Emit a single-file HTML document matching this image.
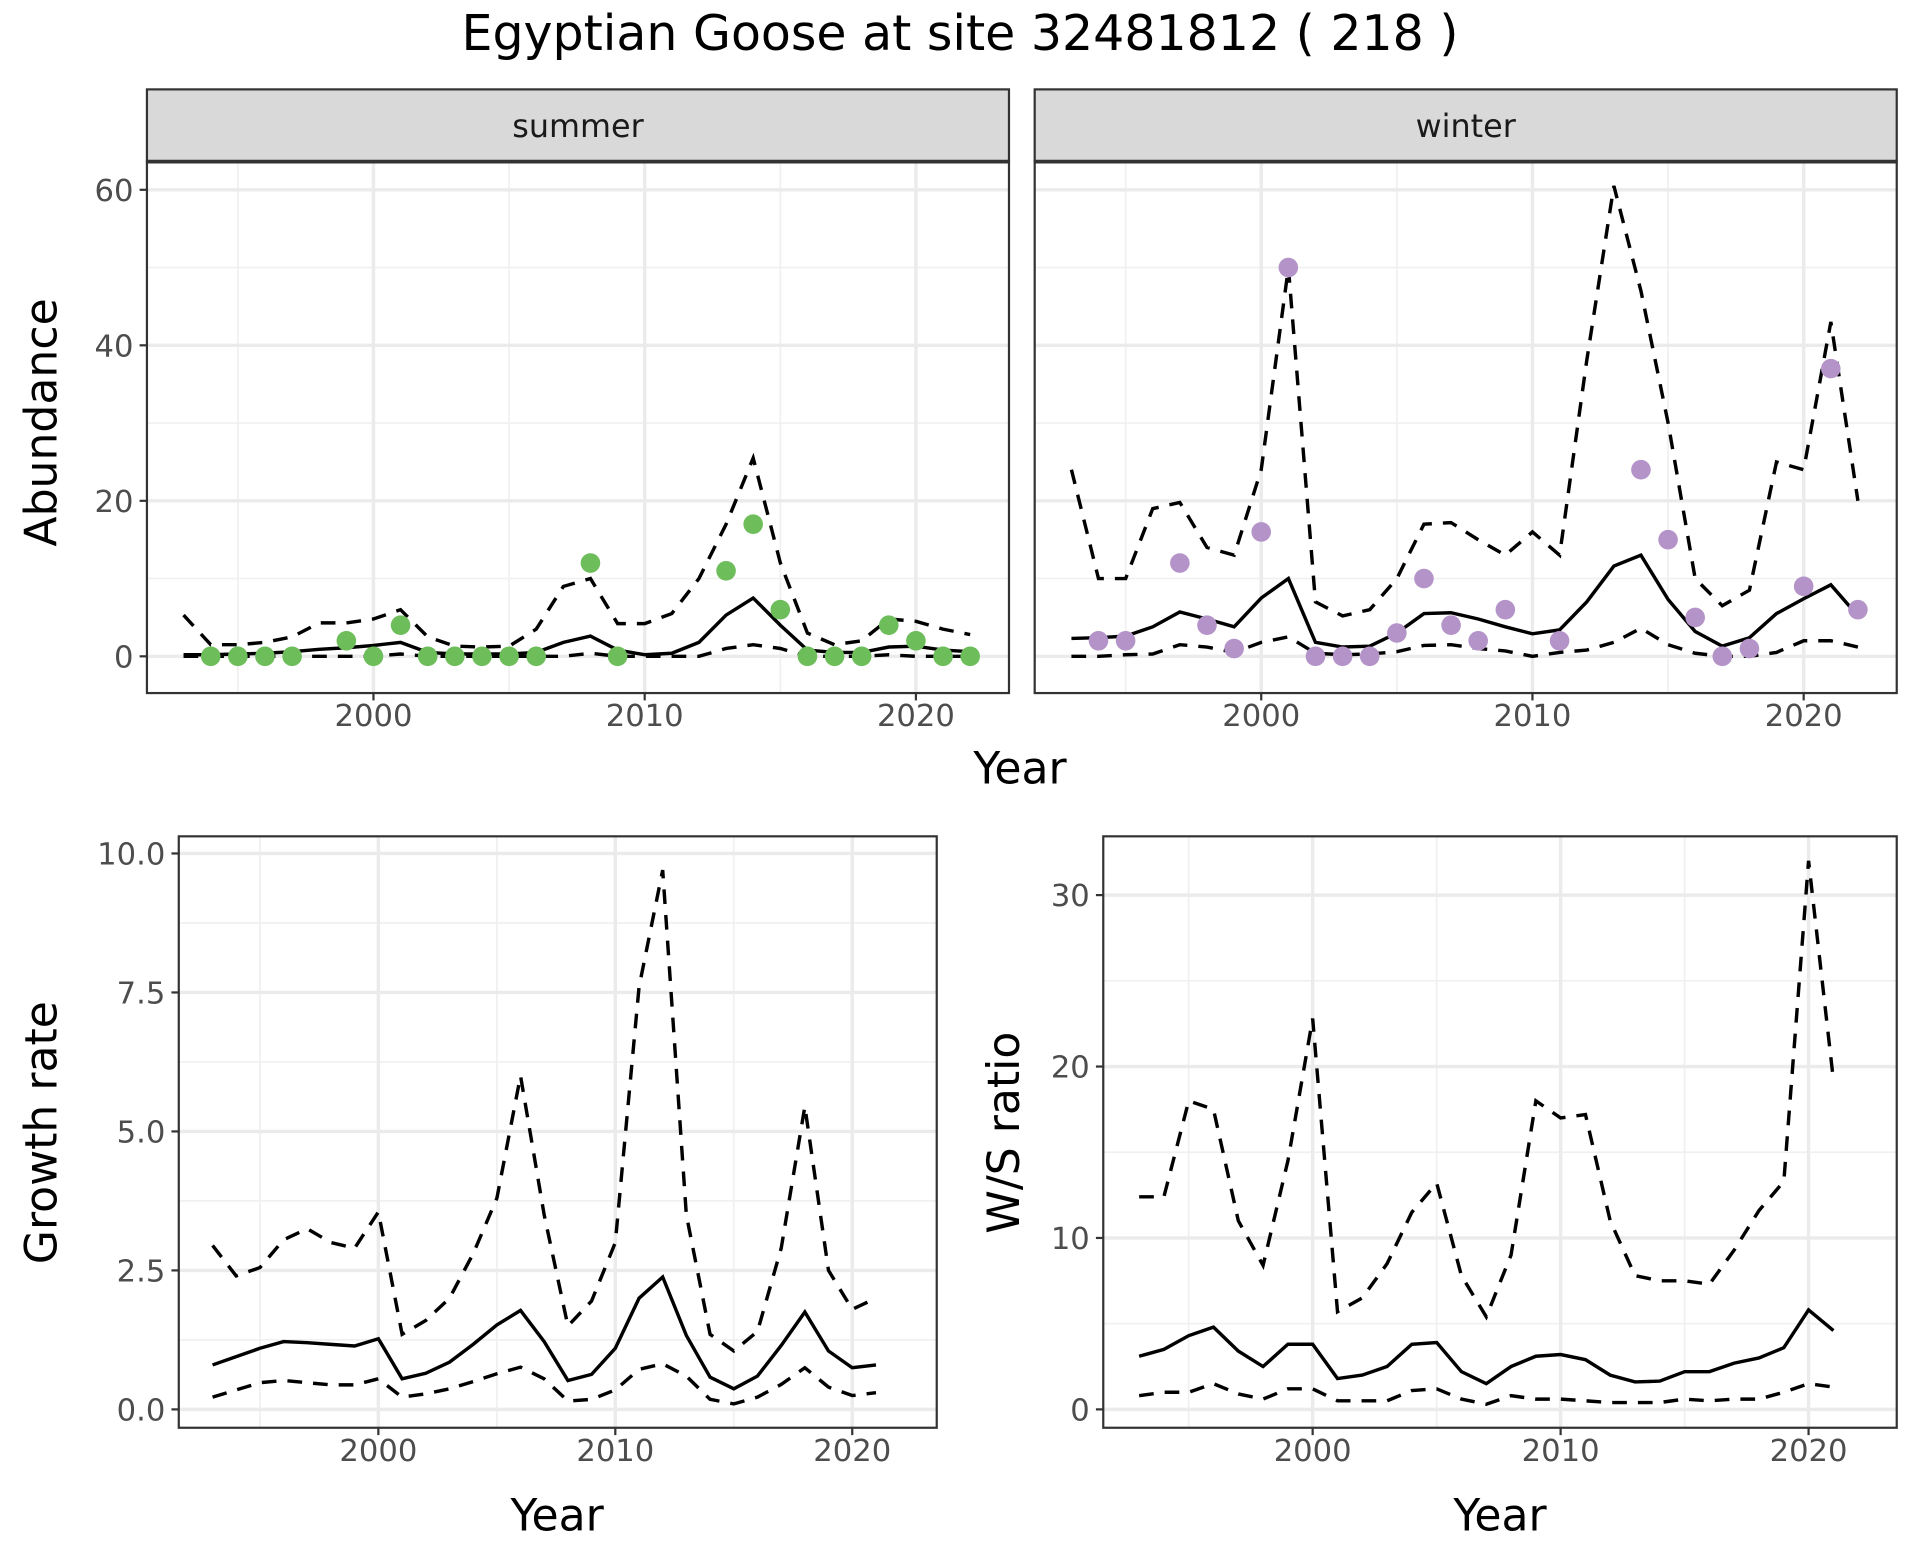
<!DOCTYPE html>
<html><head><meta charset="utf-8"><style>
html,body{margin:0;padding:0;background:#fff;}
svg{display:block;font-family:"DejaVu Sans","Liberation Sans",sans-serif;}
</style></head><body>
<svg id="chart" width="1920" height="1560" viewBox="0 0 1568 1274" xmlns="http://www.w3.org/2000/svg">
<text x="784" y="41" text-anchor="middle" font-size="40" fill="#000">Egyptian Goose at site 32481812 ( 218 )</text>
</svg>
<script>
const yearsFull = [1993,1994,1995,1996,1997,1998,1999,2000,2001,2002,2003,2004,2005,2006,2007,2008,2009,2010,2011,2012,2013,2014,2015,2016,2017,2018,2019,2020,2021,2022];
const summerPtYears = [1994,1995,1996,1997,1999,2000,2001,2002,2003,2004,2005,2006,2008,2009,2013,2014,2015,2016,2017,2018,2019,2020,2021,2022];
const summerPtVals = [0,0,0,0,2,0,4,0,0,0,0,0,12,0,11,17,6,0,0,0,4,2,0,0];
const summerMean = [0.2,0.2,0.3,0.4,0.6,0.9,1.1,1.4,1.8,0.5,0.3,0.3,0.3,0.5,1.8,2.6,0.8,0.2,0.4,1.8,5.3,7.5,4,0.8,0.5,0.5,1.2,1.3,0.8,0.6];
const summerUpper = [5.3,1.5,1.5,1.8,2.5,4.3,4.3,4.8,6,2.5,1.3,1.2,1.3,3.5,9,10,4.2,4.2,5.5,10,17,25.5,12,3,1.5,2,4.8,4.5,3.5,2.8];
const summerLower = [0,0,0,0,0,0,0,0,0.3,0,0,0,0,0,0,0.4,0,0,0,0,1,1.5,1,0,0,0,0.2,0,0,0];
const winterPtYears = [1994,1995,1997,1998,1999,2000,2001,2002,2003,2004,2005,2006,2007,2008,2009,2011,2014,2015,2016,2017,2018,2020,2021,2022];
const winterPtVals = [2,2,12,4,1,16,50,0,0,0,3,10,4,2,6,2,24,15,5,0,1,9,37,6];
const winterMean = [2.3,2.4,2.6,3.8,5.7,4.8,3.8,7.5,10,1.8,1.2,1.3,3,5.5,5.6,4.8,3.8,2.9,3.4,7,11.6,13,7.3,3.2,1.3,2.4,5.5,7.4,9.2,5.2];
const winterUpper = [24,10,10,19,19.8,14,13,24,50,7,5.2,6,10,17,17.2,15,13,16,13,38,60.5,47,30,10,6.5,8.5,25,24,43,20];
const winterLower = [0,0,0.2,0.3,1.5,1.2,0.5,1.8,2.5,0.4,0.2,0.3,0.6,1.4,1.5,1,0.7,0,0.5,0.8,1.8,3.6,1.5,0.4,0,0,0.5,2,2,1.2];
const yearsGR = [1993,1994,1995,1996,1997,1998,1999,2000,2001,2002,2003,2004,2005,2006,2007,2008,2009,2010,2011,2012,2013,2014,2015,2016,2017,2018,2019,2020,2021];
const grMean = [0.8,0.95,1.1,1.22,1.2,1.17,1.14,1.27,0.55,0.65,0.85,1.17,1.52,1.78,1.22,0.52,0.63,1.1,2,2.38,1.33,0.58,0.37,0.6,1.15,1.75,1.05,0.75,0.8];
const grUpper = [2.95,2.4,2.55,3.05,3.25,3.0,2.9,3.55,1.35,1.6,2.0,2.8,3.8,6.0,3.5,1.5,1.95,3.0,7.6,9.7,3.5,1.35,1.05,1.4,2.9,5.45,2.5,1.8,2.0];
const grLower = [0.22,0.35,0.48,0.52,0.48,0.44,0.44,0.55,0.22,0.28,0.37,0.5,0.64,0.76,0.55,0.15,0.18,0.35,0.72,0.82,0.6,0.18,0.1,0.22,0.45,0.75,0.4,0.25,0.3];
const wsMean = [3.1,3.5,4.3,4.8,3.4,2.5,3.8,3.8,1.8,2,2.5,3.8,3.9,2.2,1.5,2.5,3.1,3.2,2.9,2,1.6,1.65,2.2,2.2,2.7,3,3.6,5.8,4.6];
const wsUpper = [12.4,12.4,18,17.5,11,8.4,14.5,22.8,5.7,6.5,8.5,11.5,13.2,7.8,5.4,9,18,17,17.2,11,7.8,7.5,7.5,7.3,9.3,11.6,13.3,32,19.2];
const wsLower = [0.8,1,1,1.5,0.9,0.6,1.2,1.2,0.5,0.5,0.5,1.1,1.2,0.6,0.3,0.8,0.6,0.6,0.5,0.4,0.4,0.4,0.6,0.5,0.6,0.6,1,1.5,1.3];
const xTickLabels = [2000,2010,2020];
const abTicks = [0,20,40,60];
const grTicks = [0,2.5,5,7.5,10];
const grTickLabels = ["0.0","2.5","5.0","7.5","10.0"];
const wsTicks = [0,10,20,30];

const NS="http://www.w3.org/2000/svg";
const svg=document.getElementById('chart');
function mk(tag,attrs,parent){const e=document.createElementNS(NS,tag);for(const k in attrs)e.setAttribute(k,attrs[k]);(parent||svg).appendChild(e);return e;}
function lin(d0,d1,r0,r1){return v=>r0+(v-d0)*(r1-r0)/(d1-d0);}

function panel(o){
  const g=mk('g',{});
  
  
  const x=lin(2000,2020,o.x2000,o.x2020), y=lin(o.yv0,o.yv1,o.yp0,o.yp1);
  mk('rect',{x:o.L,y:o.T,width:o.R-o.L,height:o.B-o.T,fill:'#fff'},g);
  for(const m of o.minorY){mk('line',{x1:o.L,x2:o.R,y1:y(m),y2:y(m),stroke:'#f0f0f0','stroke-width':1.4},g);}
  for(const m of [1995,2005,2015]){mk('line',{x1:x(m),x2:x(m),y1:o.T,y2:o.B,stroke:'#f0f0f0','stroke-width':1.4},g);}
  for(const t of o.ticks){mk('line',{x1:o.L,x2:o.R,y1:y(t),y2:y(t),stroke:'#ebebeb','stroke-width':2.8},g);}
  for(const t of xTickLabels){mk('line',{x1:x(t),x2:x(t),y1:o.T,y2:o.B,stroke:'#ebebeb','stroke-width':2.8},g);}
  const path=(yrs,vals)=>yrs.map((yr,i)=>(i?'L':'M')+x(yr).toFixed(1)+','+y(vals[i]).toFixed(1)).join(' ');
  const up=mk('path',{d:path(o.years,o.upper),fill:'none',stroke:'#000','stroke-width':2.8,'stroke-dasharray':'12,9'},g);
  
  
  const lo=mk('path',{d:path(o.years,o.lower),fill:'none',stroke:'#000','stroke-width':2.8,'stroke-dasharray':'12,9'},g);
  
  
  const mn=mk('path',{d:path(o.years,o.mean),fill:'none',stroke:'#000','stroke-width':2.8},g);
  
  
  if(o.ptYears){o.ptYears.forEach((yr,i)=>{const c=mk('circle',{cx:x(yr),cy:y(o.ptVals[i]),r:8,fill:o.ptColor},g);
    
    });}
  mk('rect',{x:o.L,y:o.T,width:o.R-o.L,height:o.B-o.T,fill:'none',stroke:'#333','stroke-width':1.8},g);
  if(o.strip){
    const s=mk('rect',{x:o.L,y:o.T-59,width:o.R-o.L,height:59,fill:'#d9d9d9',stroke:'#333','stroke-width':1.8},g);
    
    
    mk('line',{x1:o.L,x2:o.R,y1:o.T,y2:o.T,stroke:'#333','stroke-width':3},g);
    const st=mk('text',{x:(o.L+o.R)/2,y:o.T-20,'text-anchor':'middle','font-size':26,fill:'#1a1a1a'},g);
    st.textContent=o.strip;
    
    
  }
  if(o.yLabels){o.ticks.forEach((t,i)=>{
    mk('line',{x1:o.L-6,x2:o.L,y1:y(t),y2:y(t),stroke:'#333','stroke-width':1.8},g);
    const tx=mk('text',{x:o.L-11,y:y(t)+9,'text-anchor':'end','font-size':25,fill:'#4d4d4d'},g);
    tx.textContent=o.yLabels[i];
    
    });}
  xTickLabels.forEach(t=>{
    mk('line',{x1:x(t),x2:x(t),y1:o.B,y2:o.B+6,stroke:'#333','stroke-width':1.8},g);
    const tx=mk('text',{x:x(t),y:o.B+27,'text-anchor':'middle','font-size':25,fill:'#4d4d4d'},g);
    tx.textContent=t;
    
    });
  return g;
}
panel({name:'summer-panel',L:120,R:824,T:132,B:566,x2000:305,x2020:748,yv0:0,yv1:60,yp0:536,yp1:155,ticks:abTicks,minorY:[10,30,50],yLabels:abTicks.map(String),
  years:yearsFull,mean:summerMean,upper:summerUpper,lower:summerLower,ptYears:summerPtYears,ptVals:summerPtVals,ptColor:'#6dbd5b',strip:'summer'});
panel({name:'winter-panel',L:845,R:1549,T:132,B:566,x2000:1030,x2020:1473,yv0:0,yv1:60,yp0:536,yp1:155,ticks:abTicks,minorY:[10,30,50],yLabels:null,
  years:yearsFull,mean:winterMean,upper:winterUpper,lower:winterLower,ptYears:winterPtYears,ptVals:winterPtVals,ptColor:'#b493c9',strip:'winter'});
panel({name:'growth-rate-panel',L:146,R:765,T:683,B:1166,x2000:309,x2020:696,yv0:0,yv1:10,yp0:1151,yp1:697,ticks:grTicks,minorY:[1.25,3.75,6.25,8.75],yLabels:grTickLabels,
  years:yearsGR,mean:grMean,upper:grUpper,lower:grLower});
panel({name:'ws-ratio-panel',L:901,R:1549,T:683,B:1166,x2000:1072,x2020:1477,yv0:0,yv1:30,yp0:1151,yp1:731,ticks:wsTicks,minorY:[5,15,25],yLabels:wsTicks.map(String),
  years:yearsGR,mean:wsMean,upper:wsUpper,lower:wsLower});
function title(txt,x,y,rot,name){const t=mk('text',{x:x,y:y,'text-anchor':'middle','font-size':36,fill:'#000'});
  if(rot)t.setAttribute('transform','rotate(-90 '+x+' '+y+')');
  t.textContent=txt;
  
  }
title('Year',833,640,false,'x-axis-title-top');
title('Abundance',46,345,true,'y-axis-title-abundance');
title('Year',455,1250,false,'x-axis-title-growth');
title('Growth rate',46,925,true,'y-axis-title-growth');
title('Year',1225,1250,false,'x-axis-title-ws');
title('W/S ratio',832,925,true,'y-axis-title-ws');
</script>
</body></html>
